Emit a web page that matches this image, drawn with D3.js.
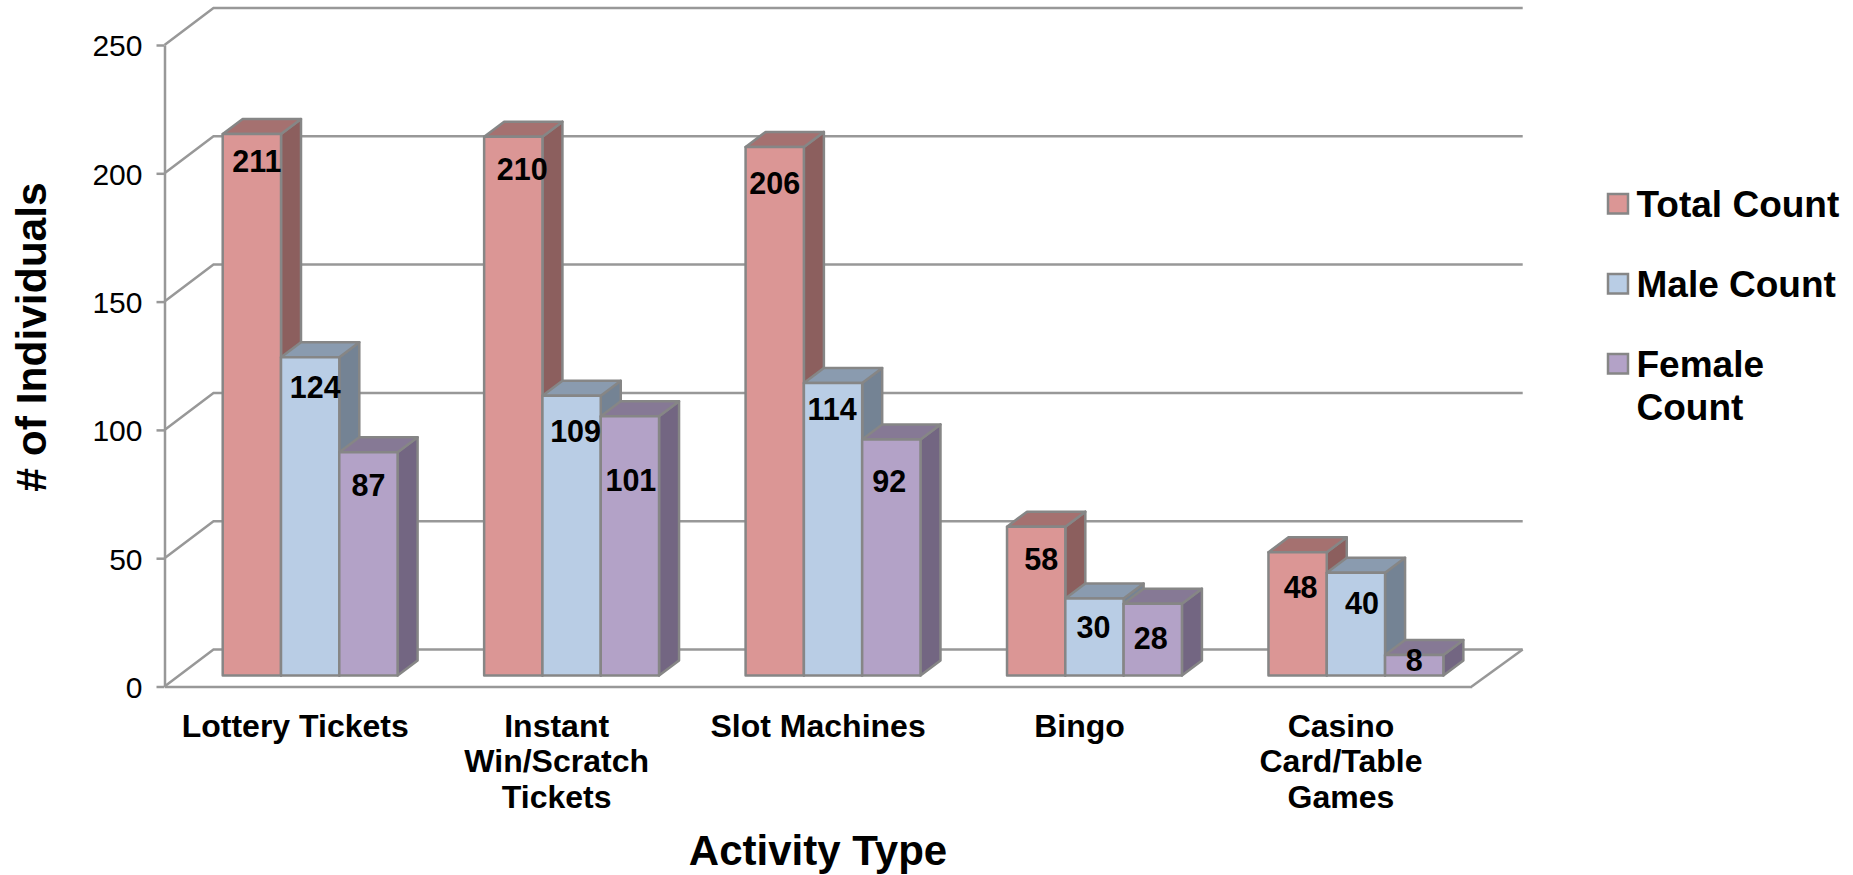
<!DOCTYPE html>
<html><head><meta charset="utf-8">
<script src="https://cdn.jsdelivr.net/npm/d3@7"></script>
<style>html,body{margin:0;padding:0;background:#fff;overflow:hidden}svg{display:block}text{font-family:"Liberation Sans",Arial,sans-serif;fill:#000}</style>
</head><body><svg id="c" width="1853" height="875"></svg>
<script>
const categories=["Lottery Tickets","Instant Win/Scratch Tickets","Slot Machines","Bingo","Casino Card/Table Games"];
const categoryLines=[["Lottery Tickets"],["Instant","Win/Scratch","Tickets"],["Slot Machines"],["Bingo"],["Casino","Card/Table","Games"]];
const seriesNames=["Total Count","Male Count","Female Count"];
const totalCount=[211,210,206,58,48];
const maleCount=[124,109,114,30,40];
const femaleCount=[87,101,92,28,8];
const yTicks=[0,50,100,150,200,250];
const seriesValues=[totalCount,maleCount,femaleCount];

const frontColors=["#DB9695","#B9CDE5","#B3A2C7"];
const topColors=["#A57170","#8A9BAF","#867995"];
const sideColors=["#8C5F5E","#748394","#736682"];
const lineColor="#989898", barStroke="#868686";

// manual data-label nudges as placed in the original: [dx, dy from bar top]
const nudges=[
 [[5,27],[5,30],[0,33]],
 [[9,33],[4,36],[1,64]],
 [[0,36],[-1,26],[-2,42]],
 [[5,33],[-1,29],[-2,35]],
 [[3,35],[6,30],[0,5]]];

const svg=d3.select("#c");
const y=d3.scaleLinear().domain([0,250]).range([686.5,45]);
const x=d3.scaleBand().domain(categories).range([164.5,1471.7]);
const depthX=49, depthY=37;          // wall depth
const barDX=20, barDY=15;            // bar depth
const barLift=11;                    // bar base sits above the front floor edge
const barW=58.3, groupOffset=58.2;

// walls / gridlines
const grid=svg.append("g").attr("fill","none").attr("stroke",lineColor).attr("stroke-width",2.5);
yTicks.forEach(t=>{
  grid.append("polyline").attr("points",[[x.range()[0],y(t)],[x.range()[0]+depthX,y(t)-depthY],[x.range()[1]+depthX+2,y(t)-depthY]].join(" "));
});
grid.append("polyline").attr("points",[[x.range()[1],y(0)],[x.range()[1]+depthX+2,y(0)-depthY]].join(" "));

// y axis
const yAxis=svg.append("g").attr("transform",`translate(${x.range()[0]},0)`).call(d3.axisLeft(y).tickValues(yTicks).tickSize(8).tickPadding(14).tickSizeOuter(0));
yAxis.selectAll("path,line").attr("stroke",lineColor).attr("stroke-width",2.5);
yAxis.selectAll("text").attr("font-size",30).attr("font-family",'"Liberation Sans"').attr("fill","#000").attr("dy","0.36em");

// x axis
const xAxis=svg.append("g").attr("transform",`translate(0,${y(0)})`).call(d3.axisBottom(x).tickSize(0).tickFormat(""));
xAxis.select("path").attr("stroke",lineColor).attr("stroke-width",2.5);
xAxis.selectAll(".tick").each(function(d,i){
  const t=d3.select(this).append("text").attr("text-anchor","middle").attr("font-size",32).attr("font-weight","bold").attr("font-family",'"Liberation Sans"').attr("fill","#000");
  categoryLines[i].forEach((l,j)=>t.append("tspan").attr("x",0).attr("y",50+j*35.8).text(l));
});

// bars
const bars=svg.append("g").attr("stroke",barStroke).attr("stroke-width",2.5).attr("stroke-linejoin","round");
categories.forEach((c,ci)=>{
  seriesValues.forEach((vals,si)=>{
    const x0=x(c)+groupOffset+si*barW, x1=x0+barW, yT=y(vals[ci])-barLift, yB=y(0)-barLift;
    bars.append("polygon").attr("fill",sideColors[si]).attr("points",[[x1,yT],[x1+barDX,yT-barDY],[x1+barDX,yB-barDY],[x1,yB]].join(" "));
    bars.append("polygon").attr("fill",topColors[si]).attr("points",[[x0,yT],[x0+barDX,yT-barDY],[x1+barDX,yT-barDY],[x1,yT]].join(" "));
    bars.append("rect").attr("fill",frontColors[si]).attr("x",x0).attr("y",yT).attr("width",barW).attr("height",yB-yT);
  });
});
// value labels
categories.forEach((c,ci)=>{
  seriesValues.forEach((vals,si)=>{
    const cx=x(c)+groupOffset+(si+.5)*barW;
    svg.append("text").attr("x",cx+nudges[ci][si][0]).attr("y",y(vals[ci])-barLift+nudges[ci][si][1]).attr("dy","0.35em")
      .attr("text-anchor","middle").attr("font-size",30.5).attr("font-weight","bold").text(vals[ci]);
  });
});

// axis titles
svg.append("text").attr("x",818).attr("y",865).attr("text-anchor","middle").attr("font-size",42).attr("font-weight","bold").text("Activity Type");
svg.append("text").attr("transform","translate(46,337) rotate(-90)").attr("text-anchor","middle").attr("font-size",42.5).attr("font-weight","bold").text("# of Individuals");

// legend
const legendRows=[["Total Count"],["Male Count"],["Female","Count"]];
legendRows.forEach((lines,i)=>{
  svg.append("rect").attr("x",1608).attr("y",194+i*80).attr("width",20).attr("height",19.5).attr("fill",frontColors[i]).attr("stroke",barStroke).attr("stroke-width",2.5);
  lines.forEach((l,j)=>svg.append("text").attr("x",1636.5).attr("y",216.7+i*80+j*43.3).attr("font-size",37).attr("font-weight","bold").text(l));
});
</script></body></html>
